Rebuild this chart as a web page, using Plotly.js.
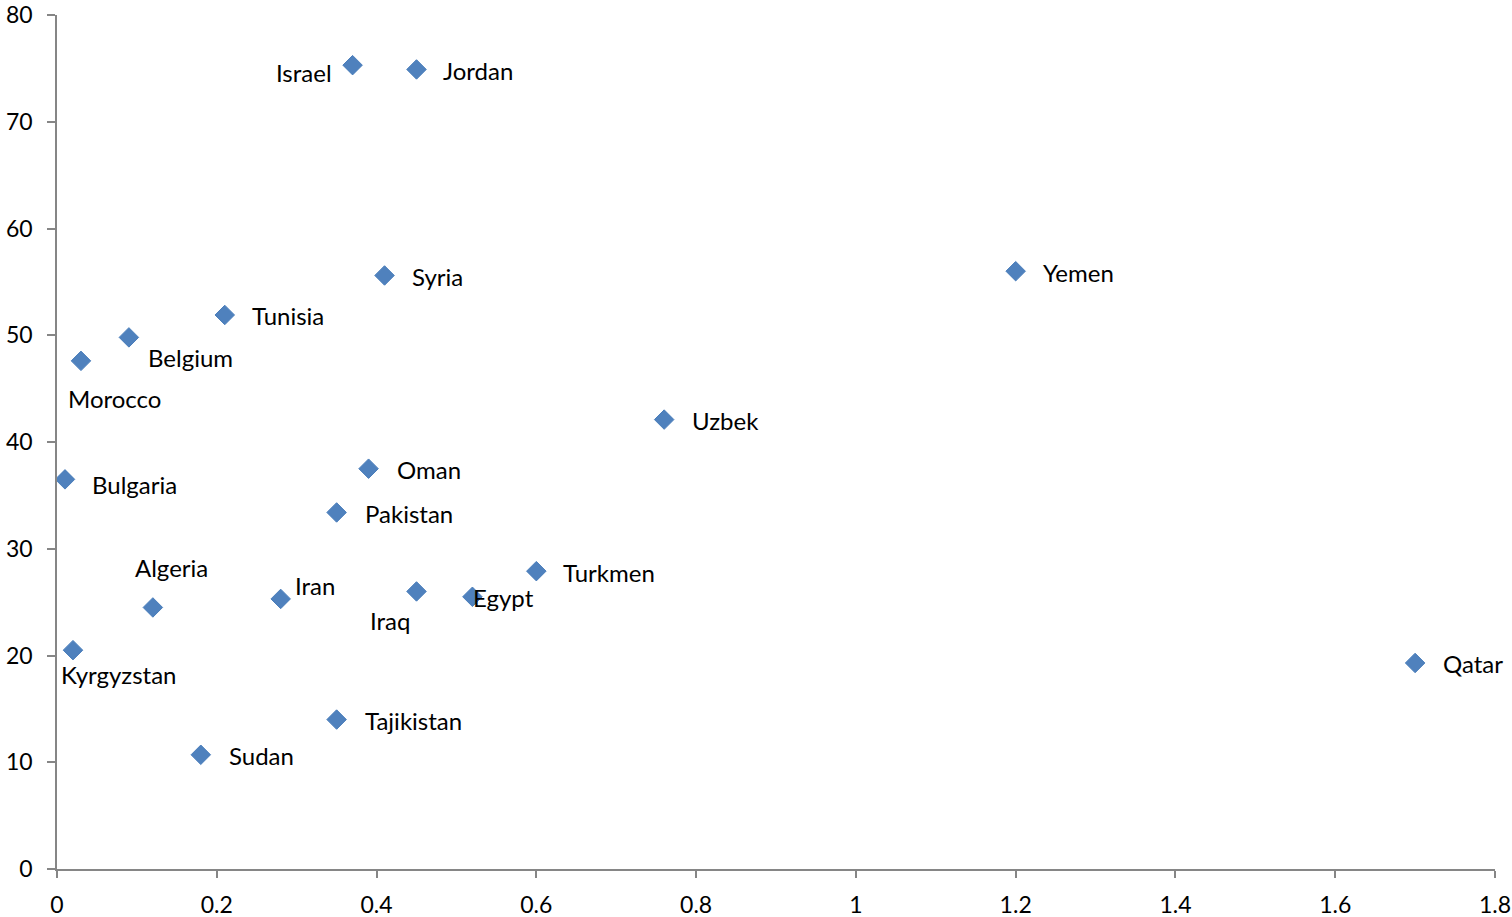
<!DOCTYPE html>
<html>
<head>
<meta charset="utf-8">
<script src="https://cdn.plot.ly/plotly-3.0.1.min.js"></script>
<style>
html,body{margin:0;padding:0;background:#fff;}
#chart{width:1512px;height:917px;}
</style>
</head>
<body>
<div id="chart"></div>
<script>
// Data
var countries = ["Israel","Jordan","Syria","Yemen","Tunisia","Belgium","Morocco","Uzbek","Bulgaria","Oman","Pakistan","Turkmen","Algeria","Iran","Iraq","Egypt","Kyrgyzstan","Qatar","Tajikistan","Sudan"];
var xValues = [0.37,0.45,0.41,1.20,0.21,0.09,0.03,0.76,0.01,0.39,0.35,0.60,0.12,0.28,0.45,0.52,0.02,1.70,0.35,0.18];
var yValues = [75.3,74.9,55.6,56.0,51.9,49.8,47.6,42.1,36.5,37.5,33.4,27.9,24.5,25.3,26.0,25.5,20.5,19.3,14.0,10.7];
var xTicks = [0,0.2,0.4,0.6,0.8,1,1.2,1.4,1.6,1.8];
var yTicks = [0,10,20,30,40,50,60,70,80];

// Label placement (pixel offsets from point), keyed by country
var labelPlacement = {
  "Israel":    {anchor:"right", dx:-19, dy:-7},
  "Jordan":    {anchor:"left",  dx:24,  dy:-1},
  "Syria":     {anchor:"left",  dx:25,  dy:-1},
  "Yemen":     {anchor:"left",  dx:25,  dy:-1},
  "Tunisia":   {anchor:"left",  dx:25,  dy:-1},
  "Belgium":   {anchor:"left",  dx:17,  dy:-20},
  "Morocco":   {anchor:"left",  dx:-15, dy:-38},
  "Uzbek":     {anchor:"left",  dx:26,  dy:-1},
  "Bulgaria":  {anchor:"left",  dx:25,  dy:-5},
  "Oman":      {anchor:"left",  dx:26,  dy:-1},
  "Pakistan":  {anchor:"left",  dx:26,  dy:-1},
  "Turkmen":   {anchor:"left",  dx:25,  dy:-1},
  "Algeria":   {anchor:"center",dx:19,  dy:40},
  "Iran":      {anchor:"left",  dx:12,  dy:13},
  "Iraq":      {anchor:"center",dx:-27, dy:-29},
  "Egypt":     {anchor:"left",  dx:-1,  dy:-1},
  "Kyrgyzstan":{anchor:"left",  dx:-14, dy:-24},
  "Qatar":     {anchor:"left",  dx:26,  dy:-1},
  "Tajikistan":{anchor:"left",  dx:26,  dy:-1},
  "Sudan":     {anchor:"left",  dx:26,  dy:-1}
};

var FONT = "Lato, 'Open Sans', sans-serif";

var trace = {
  type: "scatter",
  mode: "markers",
  x: xValues,
  y: yValues,
  text: countries,
  hoverinfo: "text+x+y",
  marker: {symbol: "diamond", size: 15, color: "#4F81BD", line: {color: "#4A7EBB", width: 1}}
};

var annotations = countries.map(function(c, i){
  var p = labelPlacement[c];
  return {
    x: xValues[i], y: yValues[i], xref: "x", yref: "y",
    text: c, showarrow: false,
    xanchor: p.anchor, yanchor: "middle",
    xshift: p.dx, yshift: p.dy,
    font: {family: FONT, size: 24, color: "#000"}
  };
});

var layout = {
  width: 1512, height: 917,
  margin: {l: 57, r: 17, t: 15, b: 48},
  paper_bgcolor: "#fff", plot_bgcolor: "#fff",
  showlegend: false,
  xaxis: {
    range: [0, 1.8], tickvals: xTicks, ticktext: xTicks.map(String),
    showgrid: false, zeroline: false,
    showline: true, linecolor: "#868686", linewidth: 1.5,
    ticks: "outside", ticklen: 7, tickcolor: "#868686", tickwidth: 1.5,
    ticklabelstandoff: 8,
    tickfont: {family: FONT, size: 23, color: "#000"},
    fixedrange: true
  },
  yaxis: {
    range: [0, 80], tickvals: yTicks, ticktext: yTicks.map(String),
    showgrid: false, zeroline: false,
    showline: true, linecolor: "#868686", linewidth: 1.5,
    ticks: "outside", ticklen: 8, tickcolor: "#868686", tickwidth: 1.5,
    ticklabelstandoff: 10,
    tickfont: {family: FONT, size: 23, color: "#000"},
    fixedrange: true
  },
  annotations: annotations
};

Plotly.newPlot("chart", [trace], layout, {displayModeBar: false, responsive: false});
</script>
</body>
</html>
